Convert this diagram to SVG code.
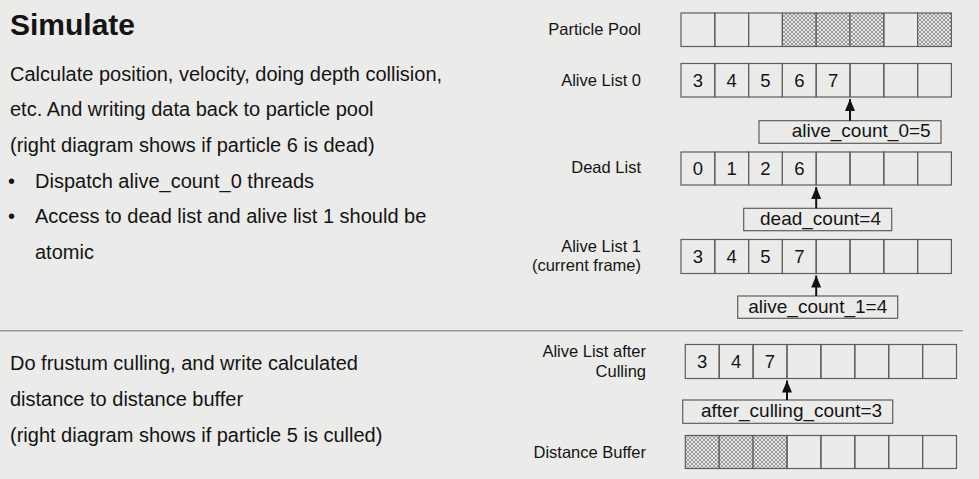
<svg xmlns="http://www.w3.org/2000/svg" width="979" height="479" viewBox="0 0 979 479">
<defs>
<pattern id="hatch" width="4" height="4" patternUnits="userSpaceOnUse">
<rect width="4" height="4" fill="#e8e8e6"/>
<path d="M0,0 L4,4 M4,0 L0,4" stroke="#767676" stroke-width="0.7"/>
</pattern>
<marker id="arr" viewBox="0 0 12 10" refX="12" refY="5" markerWidth="12" markerHeight="10" markerUnits="userSpaceOnUse" orient="auto">
<path d="M0,0 L12,5 L0,10 Z" fill="#111"/>
</marker>
</defs>
<style>
text{font-family:"Liberation Sans",Arial,sans-serif;fill:#141414}
.title{font-size:30px;font-weight:bold}
.body{font-size:20px}
.lbl{font-size:16.5px;text-anchor:end}
.num{font-size:18.5px;text-anchor:middle}
.cnt{font-size:19px}
.cell{fill:none;stroke:#5e5e5e;stroke-width:1.2}
.hat{fill:url(#hatch);stroke:#5e5e5e;stroke-width:1.2}
.box{fill:none;stroke:#5e5e5e;stroke-width:1.2}
.conn line{stroke:#111;stroke-width:2}
</style>
<rect width="979" height="479" fill="#ebebe9"/>

<g id="left-text">
<text class="title" x="10" y="35">Simulate</text>
<text class="body" x="10" y="80.5">Calculate position, velocity, doing depth collision,</text>
<text class="body" x="10" y="116.2">etc. And writing data back to particle pool</text>
<text class="body" x="10" y="151.9">(right diagram shows if particle 6 is dead)</text>
<text class="body" x="8" y="187.6">•</text>
<text class="body" x="35" y="187.6">Dispatch alive_count_0 threads</text>
<text class="body" x="8" y="223.3">•</text>
<text class="body" x="35" y="223.3">Access to dead list and alive list 1 should be</text>
<text class="body" x="35" y="259">atomic</text>
<text class="body" x="10" y="370">Do frustum culling, and write calculated</text>
<text class="body" x="10" y="405.8">distance to distance buffer</text>
<text class="body" x="10" y="441.5">(right diagram shows if particle 5 is culled)</text>
</g>

<line id="separator" x1="0" y1="330.7" x2="963" y2="330.7" stroke="#9a9a98" stroke-width="1.5"/>

<g id="particle-pool">
<text class="lbl" x="641" y="35">Particle Pool</text>
<rect class="cell" x="681" y="13" width="33.8" height="33.5"/>
<rect class="cell" x="714.8" y="13" width="33.8" height="33.5"/>
<rect class="cell" x="748.6" y="13" width="33.8" height="33.5"/>
<rect class="hat" x="782.4" y="13" width="33.8" height="33.5"/>
<rect class="hat" x="816.2" y="13" width="33.8" height="33.5"/>
<rect class="hat" x="850" y="13" width="33.8" height="33.5"/>
<rect class="cell" x="883.8" y="13" width="33.8" height="33.5"/>
<rect class="hat" x="917.6" y="13" width="33.8" height="33.5"/>
</g>

<g id="alive-list-0">
<text class="lbl" x="641" y="86">Alive List 0</text>
<rect class="cell" x="681" y="63.5" width="33.8" height="33.5"/>
<rect class="cell" x="714.8" y="63.5" width="33.8" height="33.5"/>
<rect class="cell" x="748.6" y="63.5" width="33.8" height="33.5"/>
<rect class="cell" x="782.4" y="63.5" width="33.8" height="33.5"/>
<rect class="cell" x="816.2" y="63.5" width="33.8" height="33.5"/>
<rect class="cell" x="850" y="63.5" width="33.8" height="33.5"/>
<rect class="cell" x="883.8" y="63.5" width="33.8" height="33.5"/>
<rect class="cell" x="917.6" y="63.5" width="33.8" height="33.5"/>
<text class="num" x="697.9" y="86.5">3</text>
<text class="num" x="731.7" y="86.5">4</text>
<text class="num" x="765.5" y="86.5">5</text>
<text class="num" x="799.3" y="86.5">6</text>
<text class="num" x="833.1" y="86.5">7</text>
</g>

<g id="alive-count-0">
<rect class="box" x="759" y="120.7" width="182" height="22.6"/>
<text class="cnt" x="791.7" y="137">alive_count_0=5</text>
</g>

<g id="dead-list">
<text class="lbl" x="641" y="173">Dead List</text>
<rect class="cell" x="681" y="152" width="33.8" height="33"/>
<rect class="cell" x="714.8" y="152" width="33.8" height="33"/>
<rect class="cell" x="748.6" y="152" width="33.8" height="33"/>
<rect class="cell" x="782.4" y="152" width="33.8" height="33"/>
<rect class="cell" x="816.2" y="152" width="33.8" height="33"/>
<rect class="cell" x="850" y="152" width="33.8" height="33"/>
<rect class="cell" x="883.8" y="152" width="33.8" height="33"/>
<rect class="cell" x="917.6" y="152" width="33.8" height="33"/>
<text class="num" x="697.9" y="174.5">0</text>
<text class="num" x="731.7" y="174.5">1</text>
<text class="num" x="765.5" y="174.5">2</text>
<text class="num" x="799.3" y="174.5">6</text>
</g>

<g id="dead-count">
<rect class="box" x="743.7" y="208.3" width="148" height="22.4"/>
<text class="cnt" x="760" y="224.5">dead_count=4</text>
</g>

<g id="alive-list-1">
<text class="lbl" x="641" y="251.7">Alive List 1</text>
<text class="lbl" x="641" y="271">(current frame)</text>
<rect class="cell" x="681" y="239.5" width="33.8" height="34"/>
<rect class="cell" x="714.8" y="239.5" width="33.8" height="34"/>
<rect class="cell" x="748.6" y="239.5" width="33.8" height="34"/>
<rect class="cell" x="782.4" y="239.5" width="33.8" height="34"/>
<rect class="cell" x="816.2" y="239.5" width="33.8" height="34"/>
<rect class="cell" x="850" y="239.5" width="33.8" height="34"/>
<rect class="cell" x="883.8" y="239.5" width="33.8" height="34"/>
<rect class="cell" x="917.6" y="239.5" width="33.8" height="34"/>
<text class="num" x="697.9" y="263">3</text>
<text class="num" x="731.7" y="263">4</text>
<text class="num" x="765.5" y="263">5</text>
<text class="num" x="799.3" y="263">7</text>
</g>

<g id="alive-count-1">
<rect class="box" x="737.7" y="296" width="160" height="22.3"/>
<text class="cnt" x="748.3" y="312.5">alive_count_1=4</text>
</g>

<g id="alive-list-after-culling">
<text class="lbl" x="646" y="356.7">Alive List after</text>
<text class="lbl" x="646" y="376.5">Culling</text>
<rect class="cell" x="685.3" y="344.5" width="33.9" height="34"/>
<rect class="cell" x="719.2" y="344.5" width="33.9" height="34"/>
<rect class="cell" x="753.1" y="344.5" width="33.9" height="34"/>
<rect class="cell" x="787" y="344.5" width="33.9" height="34"/>
<rect class="cell" x="820.9" y="344.5" width="33.9" height="34"/>
<rect class="cell" x="854.8" y="344.5" width="33.9" height="34"/>
<rect class="cell" x="888.7" y="344.5" width="33.9" height="34"/>
<rect class="cell" x="922.6" y="344.5" width="33.9" height="34"/>
<text class="num" x="702.2" y="367.5">3</text>
<text class="num" x="736.1" y="367.5">4</text>
<text class="num" x="770" y="367.5">7</text>
</g>

<g id="after-culling-count">
<rect class="box" x="682.7" y="400" width="210" height="23.3"/>
<text class="cnt" x="701" y="417.3">after_culling_count=3</text>
</g>

<g id="distance-buffer">
<text class="lbl" x="646" y="457.7">Distance Buffer</text>
<rect class="hat" x="685.3" y="435.5" width="33.9" height="33"/>
<rect class="hat" x="719.2" y="435.5" width="33.9" height="33"/>
<rect class="hat" x="753.1" y="435.5" width="33.9" height="33"/>
<rect class="cell" x="787" y="435.5" width="33.9" height="33"/>
<rect class="cell" x="820.9" y="435.5" width="33.9" height="33"/>
<rect class="cell" x="854.8" y="435.5" width="33.9" height="33"/>
<rect class="cell" x="888.7" y="435.5" width="33.9" height="33"/>
<rect class="cell" x="922.6" y="435.5" width="33.9" height="33"/>
</g>

<g id="connectors" class="conn">
<line x1="850" y1="120.7" x2="850" y2="99" marker-end="url(#arr)"/>
<line x1="816.2" y1="208.3" x2="816.2" y2="187" marker-end="url(#arr)"/>
<line x1="816.2" y1="296" x2="816.2" y2="275.5" marker-end="url(#arr)"/>
<line x1="787" y1="400" x2="787" y2="380.5" marker-end="url(#arr)"/>
</g>
</svg>
